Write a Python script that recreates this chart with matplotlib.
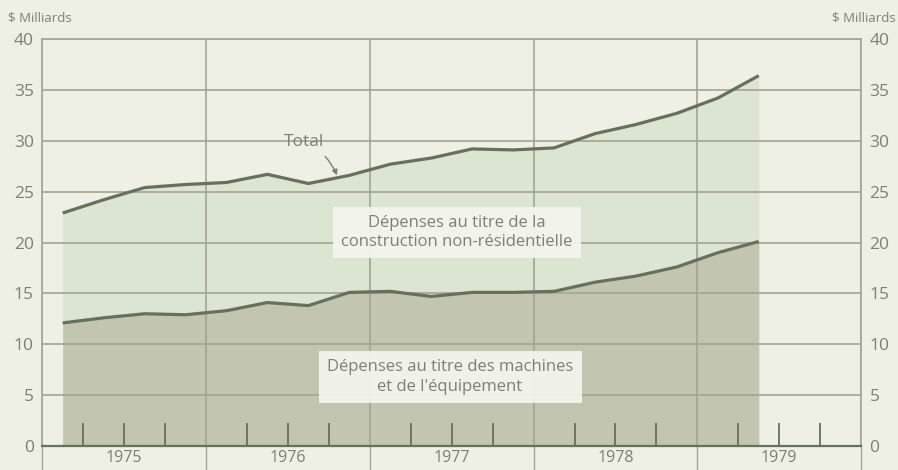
import matplotlib
matplotlib.use("Agg")
import matplotlib.pyplot as plt
import numpy as np

# quarterly data, 1975 Q1 .. 1979 Q2 ($ milliards)
quarters = ["1975-1", "1975-2", "1975-3", "1975-4",
            "1976-1", "1976-2", "1976-3", "1976-4",
            "1977-1", "1977-2", "1977-3", "1977-4",
            "1978-1", "1978-2", "1978-3", "1978-4",
            "1979-1", "1979-2"]
total = [22.9, 24.2, 25.4, 25.7, 25.9, 26.7, 25.8, 26.6,
         27.7, 28.3, 29.2, 29.1, 29.3, 30.7, 31.6, 32.7, 34.2, 36.4]
machines = [12.1, 12.6, 13.0, 12.9, 13.3, 14.1, 13.8, 15.1,
            15.2, 14.7, 15.1, 15.1, 15.2, 16.1, 16.7, 17.6, 19.0, 20.1]
years = [1975, 1976, 1977, 1978, 1979]
yticks = [0, 5, 10, 15, 20, 25, 30, 35, 40]

# colours
bg = "#eef0e4"
c_upper = "#dbe5d2"
c_lower = "#c2c6b1"
c_line = "#66705c"
c_grid = "#a3a493"
c_text = "#7e7f74"

plt.rcParams['font.family'] = ['Open Sans', 'DejaVu Sans']

# mid-quarter positions
x = np.array([int(q.split("-")[0]) + (int(q.split("-")[1]) - 0.5) / 4 for q in quarters])

fig = plt.figure(figsize=(8.98, 4.70), dpi=100, facecolor=bg)
ax = fig.add_axes([0.047, 0.051, 0.912, 0.866], facecolor=bg)

ax.fill_between(x, 0, total, color=c_upper, lw=0, zorder=0.5)
ax.fill_between(x, 0, machines, color=c_lower, lw=0, zorder=0.6)
ax.plot(x, total, color=c_line, lw=2.3, solid_capstyle='butt', zorder=3)
ax.plot(x, machines, color=c_line, lw=2.3, solid_capstyle='butt', zorder=3)

ax.set_xlim(years[0], years[-1] + 1)
ax.set_ylim(0, 40)

# year labels centred, year edges as minor ticks + grid
ax.set_xticks([y + 0.5 for y in years], labels=[str(y) for y in years])
ax.set_xticks(years + [years[-1] + 1], minor=True)
ax.tick_params(axis='x', which='major', length=0, pad=3, labelsize=11.5, labelcolor=c_text)
ax.tick_params(axis='x', which='minor', length=17, direction='out', color=c_grid, width=1)
ax.grid(axis='x', which='minor', color=c_grid, lw=1.2)

# quarter marks along the bottom
qticks = [y + f for y in years for f in (0.25, 0.5, 0.75)]
ax.vlines(qticks, 0, 2.3, color=c_line, lw=1.3, zorder=2)

ax.set_yticks(yticks)
ax.tick_params(axis='y', length=0, pad=6, labelsize=12.5, labelcolor=c_text,
               labelleft=True, labelright=True)
ax.grid(axis='y', which='major', color=c_grid, lw=1.2)

for s in ax.spines.values():
    s.set_color(c_grid)
    s.set_linewidth(1.2)
ax.spines['bottom'].set_color(c_line)
ax.spines['bottom'].set_linewidth(1.6)

fig.text(0.009, 0.962, "$ Milliards", fontsize=9.5, color=c_text, ha='left', va='center')
fig.text(0.997, 0.962, "$ Milliards", fontsize=9.5, color=c_text, ha='right', va='center')

box = dict(boxstyle='square,pad=0.5', fc='#f5f6ef', ec='none', alpha=0.92)
ax.text(1977.53, 21.0, "Dépenses au titre de la\nconstruction non-résidentielle",
        ha='center', va='center', fontsize=12, color=c_text, linespacing=1.2,
        bbox=box, zorder=4)
ax.text(1977.49, 6.8, "Dépenses au titre des machines\net de l'équipement",
        ha='center', va='center', fontsize=12, color=c_text, linespacing=1.3,
        bbox=box, zorder=4)

ax.annotate("Total", xy=(1976.8, 26.6), xytext=(1976.6, 29.9),
            ha='center', va='center', fontsize=12.5, color=c_text,
            arrowprops=dict(arrowstyle='-|>', color=c_text, lw=1,
                            connectionstyle='arc3,rad=-0.2', shrinkA=4, shrinkB=0,
                            mutation_scale=8),
            zorder=4)

fig.savefig("out.png", dpi=100, facecolor=bg)
